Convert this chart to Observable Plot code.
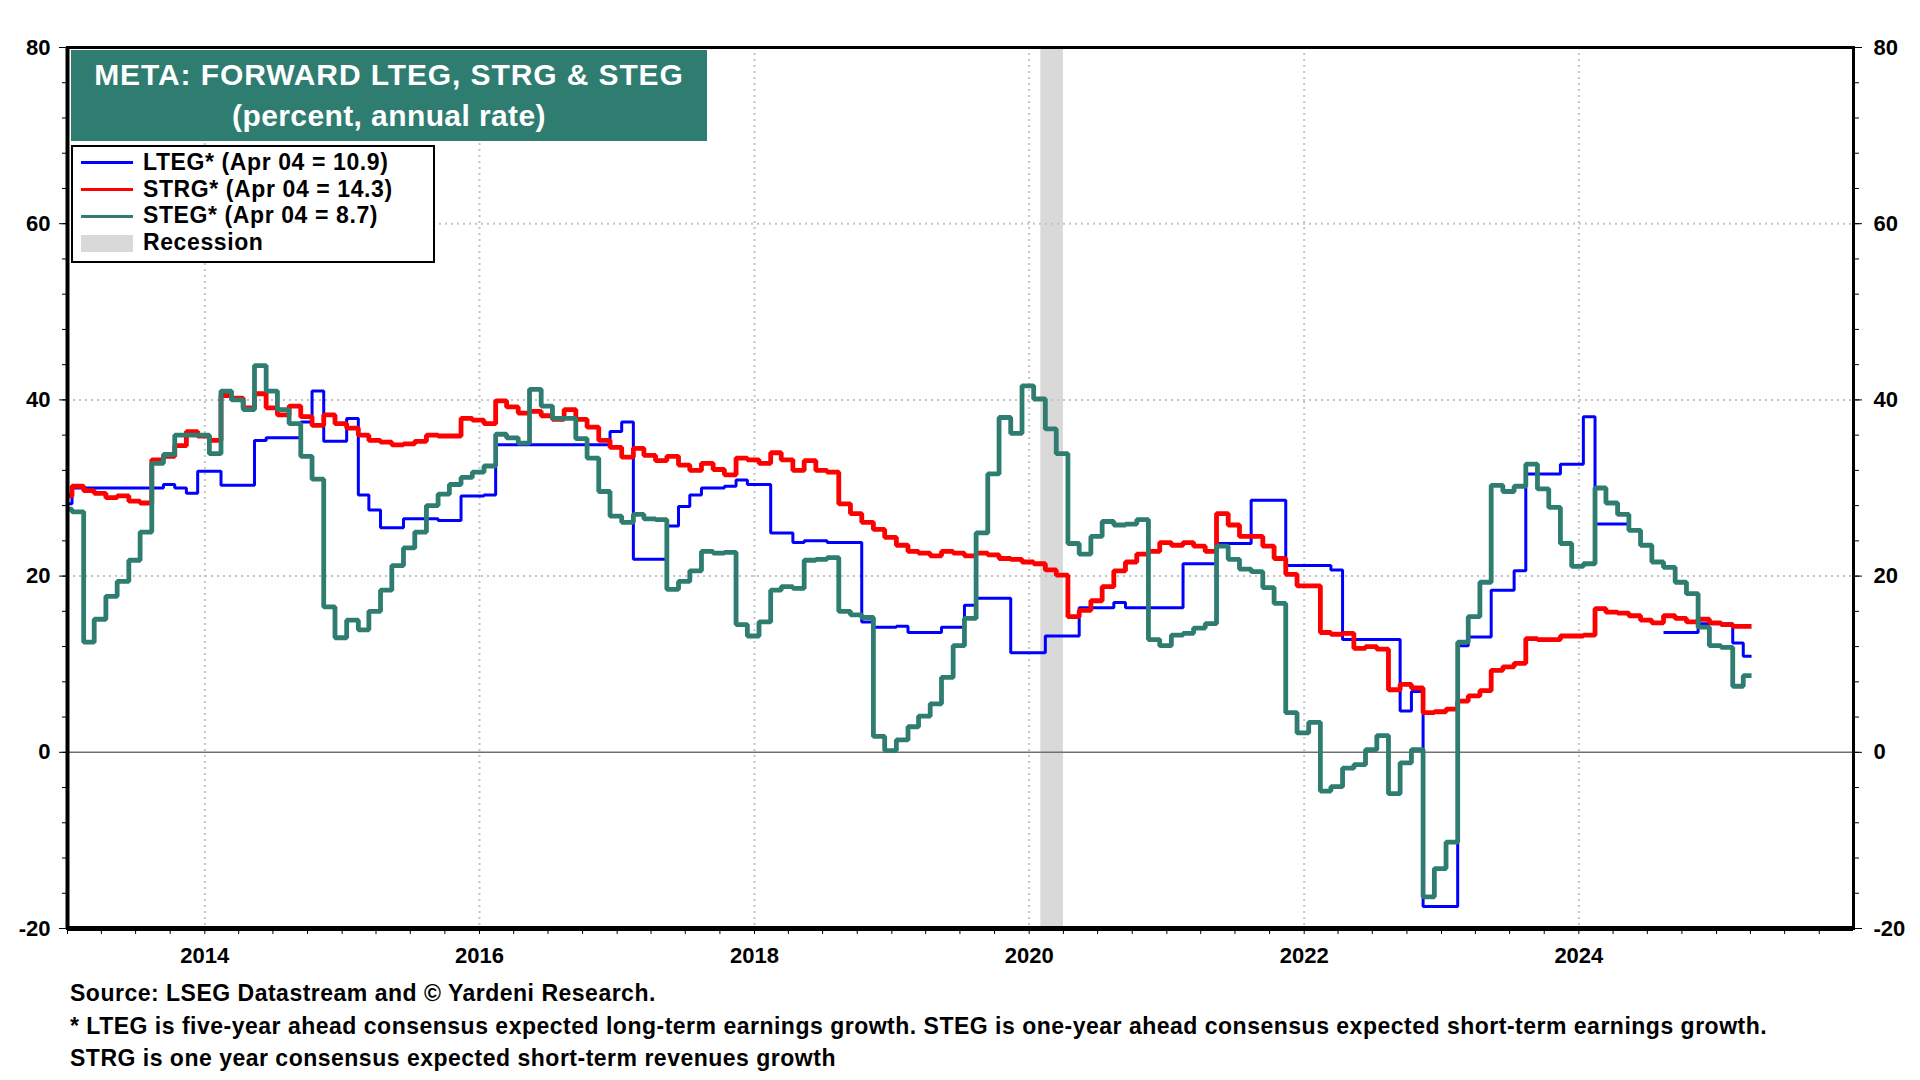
<!DOCTYPE html>
<html>
<head>
<meta charset="utf-8">
<script src="https://cdn.jsdelivr.net/npm/d3@7"></script>
<script src="https://cdn.jsdelivr.net/npm/@observablehq/plot@0.6"></script>
<style>
  html, body { margin: 0; padding: 0; background: #fff; }
  body { width: 1920px; height: 1080px; overflow: hidden; font-family: "Liberation Sans", Arial, sans-serif; font-weight: bold; }
  #wrap { position: relative; width: 1920px; height: 1080px; }
  #chart { position: absolute; left: 0; top: 0; }
  #title { position: absolute; left: 71px; top: 50px; width: 636px; height: 87px; padding-top: 4px;
           background: #2e7d70; color: #fff; font-size: 30px; line-height: 41px; text-align: center; }
  #title .l1 { letter-spacing: 0.9px; }
  #title .l2 { letter-spacing: 0.4px; }
  #legend { position: absolute; left: 71px; top: 145px; width: 360px; height: 114px; border: 2px solid #000; background: #fff; }
  .lrow { position: absolute; left: 70px; font-size: 23px; line-height: 26.9px; white-space: nowrap; letter-spacing: 0.6px; }
  .lsw { position: absolute; left: 8px; width: 52px; }
  .foot { position: absolute; left: 70px; font-size: 23px; line-height: 32.5px; white-space: nowrap; letter-spacing: 0.5px; }
</style>
</head>
<body>
<div id="wrap">
  <div id="chart"></div>
  <div id="title"></div>
  <div id="legend"></div>
  <div id="footer"></div>
</div>
<script>
// ---------- data (monthly readings, Dec 2012 .. Mar 2025) ----------
const startMonth = [2012, 11];          // first reading: Dec 2012
const lastDate = [2025, 3, 4];          // Apr 04 2025

const lteg = [28.2,
  30.0,30.0,30.0,30.0,30.0,30.0,30.0,30.0,30.4,30.0,29.4,31.9,
  31.9,30.3,30.3,30.3,35.4,35.7,35.7,35.7,37.5,41.0,35.3,35.3,
  37.9,29.2,27.5,25.5,25.5,26.5,26.5,26.5,26.3,26.3,29.1,29.1,
  29.2,34.9,34.9,34.9,34.9,34.9,34.9,34.9,34.9,34.9,34.9,36.4,
  37.5,21.9,21.9,21.9,25.7,27.9,29.2,30.0,30.0,30.2,30.9,30.4,
  30.4,24.9,24.9,23.8,24.0,24.0,23.8,23.8,23.8,14.8,14.2,14.2,
  14.3,13.6,13.6,13.6,14.2,14.2,16.7,17.5,17.5,17.5,11.3,11.3,
  11.3,13.2,13.2,13.2,16.4,16.4,16.4,17.0,16.4,16.4,16.4,16.4,
  16.4,21.4,21.4,21.4,23.7,23.7,23.7,28.6,28.6,28.6,21.2,21.2,
  21.2,21.2,20.7,12.8,12.8,12.8,12.8,12.8,4.7,6.9,-17.5,-17.5,
  -17.5,12.1,13.1,13.1,18.4,18.4,20.6,31.6,31.6,31.6,32.7,32.7,
  38.1,25.9,25.9,25.9,null,null,null,13.6,13.6,13.6,14.6,14.6,
  14.6,12.4,10.9];

const strg = [29.1,
  30.2,29.7,29.4,28.9,29.1,28.5,28.3,33.2,33.6,34.8,36.4,35.9,
  35.4,40.5,40.2,39.1,40.7,39.1,38.3,39.3,38.1,37.1,38.3,37.3,
  36.8,36.0,35.4,35.2,34.9,35.0,35.3,36.0,35.9,35.9,37.9,37.7,
  37.3,39.9,39.2,38.5,38.7,38.2,37.8,38.9,37.8,36.9,35.4,34.6,
  33.5,34.5,33.7,33.1,33.6,32.6,32.0,32.8,32.1,31.5,33.4,33.2,
  32.8,34.0,33.2,32.0,33.1,32.0,31.8,28.2,27.1,26.1,25.3,24.4,
  23.5,22.8,22.6,22.3,22.8,22.6,22.3,22.6,22.4,22.0,21.9,21.6,
  21.4,20.7,20.1,15.4,16.1,17.2,18.8,20.6,21.6,22.5,22.8,23.8,
  23.5,23.8,23.4,22.8,27.1,25.8,24.5,24.5,23.4,22.0,20.2,18.9,
  18.9,13.6,13.4,13.5,11.8,12.0,11.7,7.1,7.7,7.3,4.5,4.6,
  4.9,5.8,6.4,7.0,9.3,9.7,10.1,12.9,12.8,12.8,13.2,13.2,
  13.3,16.3,15.9,15.8,15.5,15.0,14.7,15.5,15.2,14.8,15.1,14.7,
  14.5,14.3,14.3];

const steg = [27.6,
  27.3,12.5,15.1,17.7,19.4,21.8,25.0,32.8,33.8,36.0,36.0,36.0,
  33.9,41.0,40.0,38.9,43.9,41.0,38.9,37.3,33.6,31.0,16.5,13.0,
  15.0,13.9,16.0,18.4,21.2,23.2,25.0,28.0,29.3,30.4,31.2,31.8,
  32.5,36.1,35.7,35.1,41.2,39.3,37.9,37.9,35.6,33.4,29.6,26.8,
  26.1,27.0,26.5,26.4,18.5,19.4,20.6,22.8,22.6,22.7,14.5,13.2,
  14.8,18.4,18.8,18.6,21.8,21.9,22.1,16.0,15.6,15.3,1.8,0.2,
  1.4,2.9,4.1,5.5,8.5,12.1,15.2,24.9,31.6,38.0,36.2,41.6,
  40.1,36.7,33.9,23.7,22.5,24.5,26.2,25.8,25.9,26.4,12.8,12.1,
  13.3,13.5,14.1,14.6,23.4,21.9,20.8,20.5,18.7,16.9,4.5,2.2,
  3.4,-4.4,-3.9,-1.8,-1.4,0.3,1.9,-4.7,-1.2,0.3,-16.4,-13.2,
  -10.2,12.5,15.4,19.3,30.3,29.6,30.2,32.7,29.9,27.8,23.7,21.1,
  21.4,30.0,28.3,27.0,25.2,23.5,21.6,21.0,19.3,18.0,14.2,12.1,
  11.9,7.5,8.7];

const recessions = [{start: [2020, 1, 1], end: [2020, 3, 1]}];

const yearLabels = [2014, 2016, 2018, 2020, 2022, 2024];
const yMajorTicks = [-20, 0, 20, 40, 60, 80];
const yGridTicks = [20, 40, 60];

const titleLines = ["META: FORWARD LTEG, STRG & STEG", "(percent, annual rate)"];
const seriesNames = ["LTEG* (Apr 04 = 10.9)", "STRG* (Apr 04 = 14.3)", "STEG* (Apr 04 = 8.7)"];
const seriesColors = ["#0000ff", "#ff0000", "#2e7d70"];
const seriesWidths = [3.0, 4.8, 4.8];
const recessionLabel = "Recession";
const recessionColor = "#d9d9d9";
const footerLines = [
  "Source: LSEG Datastream and © Yardeni Research.",
  "* LTEG is five-year ahead consensus expected long-term earnings growth. STEG is one-year ahead consensus expected short-term earnings growth.",
  "STRG is one year consensus expected short-term revenues growth"
];

// ---------- build step vertices ----------
const utc = (y, m, d) => new Date(Date.UTC(y, m, d));
const monthDate = i => utc(startMonth[0], startMonth[1] + i, 13);
const endDate = utc(...lastDate);
function steps(vals) {
  const out = [];
  vals.forEach((v, i) => {
    const t0 = monthDate(i);
    const t1 = i === vals.length - 1 ? endDate : monthDate(i + 1);
    if (v == null) { out.push({date: t0, value: NaN}); return; }
    out.push({date: t0, value: v}, {date: t1, value: v});
  });
  return out;
}
const series = [lteg, strg, steg].map(steps);
const recData = recessions.map(r => ({start: utc(...r.start), end: utc(...r.end)}));

const xStart = utc(2013, 0, 1), xEnd = utc(2025, 11, 31);
const quarterTicks = d3.utcMonth.every(3).range(xStart, xEnd);
const yearTickDates = yearLabels.map(y => utc(y, 0, 1));
const yMinorTicks = d3.range(-20, 81, 4);

const chart = Plot.plot({
  width: 1920, height: 1080,
  marginLeft: 67, marginRight: 67, marginTop: 47, marginBottom: 152,
  x: {type: "utc", domain: [xStart, xEnd]},
  y: {domain: [-20, 80]},
  style: {fontFamily: "'Liberation Sans', Arial, sans-serif", fontSize: "22px", fontWeight: "bold", color: "#000", background: "#fff", overflow: "visible"},
  marks: [
    Plot.rect(recData, {x1: "start", x2: "end", fill: recessionColor}),
    Plot.gridY(yGridTicks, {stroke: "#c4c4c4", strokeOpacity: 1, strokeWidth: 2, strokeDasharray: "2,4"}),
    Plot.gridX(yearTickDates, {stroke: "#c4c4c4", strokeOpacity: 1, strokeWidth: 2, strokeDasharray: "2,4"}),
    Plot.ruleY([0], {stroke: "#707070", strokeWidth: 1.6}),
    ...series.map((s, i) => Plot.line(s, {x: "date", y: "value", stroke: seriesColors[i], strokeWidth: seriesWidths[i], clip: true, strokeLinejoin: "miter", strokeLinecap: "butt"})),
    Plot.frame({stroke: "#000", strokeWidth: 3}),
    Plot.ruleY([-20], {stroke: "#000", strokeWidth: 5}),
    Plot.ruleX([xStart], {stroke: "#000", strokeWidth: 4}),
    Plot.axisY(yMinorTicks, {anchor: "left", tickSize: 5, tickFormat: () => "", label: null}),
    Plot.axisY(yMajorTicks, {anchor: "left", tickSize: 8, tickPadding: 9, tickFormat: d => String(d), label: null}),
    Plot.axisY(yMinorTicks, {anchor: "right", tickSize: 5, tickFormat: () => "", label: null}),
    Plot.axisY(yMajorTicks, {anchor: "right", tickSize: 8, tickPadding: 12, tickFormat: d => String(d), label: null}),
    Plot.axisX(quarterTicks, {anchor: "bottom", tickSize: 6, tickFormat: () => "", label: null}),
    Plot.axisX(yearTickDates, {anchor: "bottom", tickSize: 0, tickPadding: 19, tickFormat: d3.utcFormat("%Y"), label: null})
  ]
});
document.getElementById("chart").appendChild(chart);

// ---------- title ----------
document.getElementById("title").innerHTML = titleLines.map((t, i) => `<div class="l${i + 1}">${t}</div>`).join("");

// ---------- legend ----------
const legend = document.getElementById("legend");
const rowTop0 = 1.6, rowStep = 26.9;
const entries = seriesNames.map((n, i) => ({name: n, color: seriesColors[i], h: Math.max(2.8, seriesWidths[i] - 1.2)}));
entries.push({name: recessionLabel, color: recessionColor, h: 17});
entries.forEach((e, i) => {
  const top = rowTop0 + rowStep * i;
  const baseline = top + 21.4;
  const sw = document.createElement("div");
  sw.className = "lsw";
  sw.style.background = e.color;
  sw.style.height = e.h + "px";
  sw.style.top = (baseline - 7.3 - e.h / 2) + "px";
  legend.appendChild(sw);
  const t = document.createElement("div");
  t.className = "lrow";
  t.style.top = top + "px";
  t.textContent = e.name;
  legend.appendChild(t);
});

// ---------- footer ----------
const footer = document.getElementById("footer");
footerLines.forEach((l, i) => {
  const d = document.createElement("div");
  d.className = "foot";
  d.style.top = (977.4 + 32.5 * i) + "px";
  d.textContent = l;
  footer.appendChild(d);
});
</script>
</body>
</html>
